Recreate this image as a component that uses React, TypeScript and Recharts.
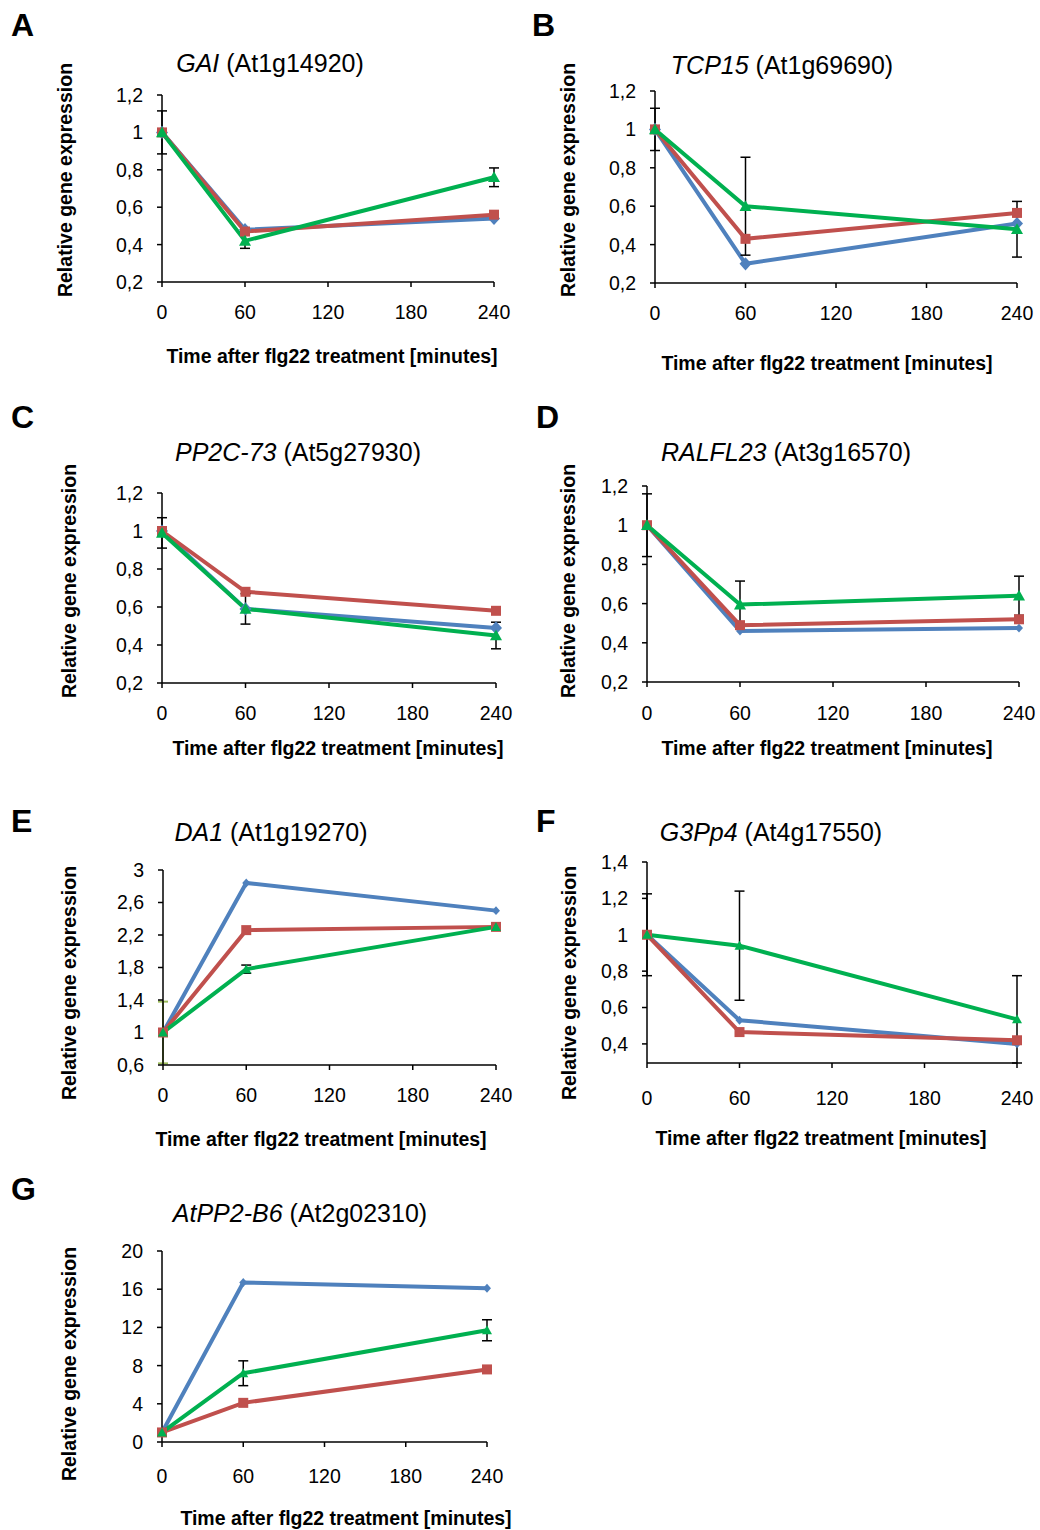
import { ErrorBar, Line, LineChart, XAxis, YAxis } from 'recharts'

const TIMES = [0, 60, 240]
const X_TICKS = [0, 60, 120, 180, 240]

const A_BLUE = [1, 0.48, 0.54]
const A_RED = [1, 0.47, 0.56]
const A_GREEN = [1, 0.42, 0.76]
const A_ERR = [0.115, 0.04, 0.05]

const B_BLUE = [1, 0.3, 0.51]
const B_RED = [1, 0.43, 0.565]
const B_GREEN = [1, 0.6, 0.48]
const B_ERR = [0.11, 0.255, 0.145]

const C_BLUE = [1, 0.59, 0.49]
const C_RED = [1, 0.68, 0.58]
const C_GREEN = [0.99, 0.59, 0.45]
const C_ERR = [0.08, 0.08, 0.07]

const D_BLUE = [1, 0.46, 0.475]
const D_RED = [1, 0.49, 0.52]
const D_GREEN = [1, 0.595, 0.64]
const D_ERR = [0.16, 0.12, 0.1]

const E_BLUE = [1, 2.84, 2.5]
const E_RED = [1, 2.26, 2.3]
const E_GREEN = [1, 1.78, 2.3]
const E_ERR = [0, 0.05, 0.03]
const E_BLUE_ERR = [0.38, 0, 0]

const F_BLUE = [1, 0.53, 0.4]
const F_RED = [1, 0.465, 0.42]
const F_GREEN = [1, 0.94, 0.535]
const F_ERR = [0.225, 0.3, 0.24]

const G_BLUE = [1, 16.7, 16.1]
const G_RED = [1, 4.1, 7.6]
const G_GREEN = [1, 7.2, 11.7]
const G_ERR = [0, 1.3, 1.1]

const TICKS_02 = [0.2, 0.4, 0.6, 0.8, 1, 1.2]
const TICKS_E = [0.6, 1, 1.4, 1.8, 2.2, 2.6, 3]
const TICKS_F = [0.4, 0.6, 0.8, 1, 1.2, 1.4]
const TICKS_G = [0, 4, 8, 12, 16, 20]

const BLUE = '#4F81BD'
const RED = '#C0504D'
const GREEN = '#00B050'
const OLIVE = '#9BBB59'
const FONT = '"Liberation Sans", Arial, sans-serif'

const rows = (b: number[], r: number[], g: number[], e: number[], be?: number[]) =>
  TIMES.map((t, i) => ({ t, blue: b[i], red: r[i], green: g[i], err: e[i], bErr: be ? be[i] : 0 }))

type Panel = {
  letter: string
  gene: string
  locus: string
  data: ReturnType<typeof rows>
  yTicks: number[]
  ox: number
  x0: number
  x1: number
  y0: number
  y1: number
  tickGap: number
  title: [number, number]
  yLabel: [number, number]
  xLabel: [number, number]
  letterPos: [number, number]
  dotSize: { blue: number; red: number; green: number }
}

const PANELS: Panel[] = [
  { letter: 'A', gene: 'GAI', locus: '(At1g14920)', data: rows(A_BLUE, A_RED, A_GREEN, A_ERR), yTicks: TICKS_02,
    ox: 0, x0: 162, x1: 494, y0: 95, y1: 282, tickGap: 18, title: [270, 63], yLabel: [66, 180], xLabel: [332, 357], letterPos: [11, 9],
    dotSize: { blue: 6, red: 5, green: 6 } },
  { letter: 'B', gene: 'TCP15', locus: '(At1g69690)', data: rows(B_BLUE, B_RED, B_GREEN, B_ERR), yTicks: TICKS_02,
    ox: 520, x0: 655, x1: 1017, y0: 91, y1: 283, tickGap: 18, title: [782, 65], yLabel: [569, 180], xLabel: [827, 364], letterPos: [532, 9],
    dotSize: { blue: 6, red: 5, green: 6 } },
  { letter: 'C', gene: 'PP2C-73', locus: '(At5g27930)', data: rows(C_BLUE, C_RED, C_GREEN, C_ERR), yTicks: TICKS_02,
    ox: 0, x0: 162, x1: 496, y0: 493, y1: 683, tickGap: 18, title: [298, 452], yLabel: [70, 581], xLabel: [338, 749], letterPos: [11, 401],
    dotSize: { blue: 6, red: 5, green: 6 } },
  { letter: 'D', gene: 'RALFL23', locus: '(At3g16570)', data: rows(D_BLUE, D_RED, D_GREEN, D_ERR), yTicks: TICKS_02,
    ox: 520, x0: 647, x1: 1019, y0: 486, y1: 682, tickGap: 19, title: [786, 452], yLabel: [569, 581], xLabel: [827, 749], letterPos: [536, 401],
    dotSize: { blue: 4, red: 5, green: 6 } },
  { letter: 'E', gene: 'DA1', locus: '(At1g19270)', data: rows(E_BLUE, E_RED, E_GREEN, E_ERR, E_BLUE_ERR), yTicks: TICKS_E,
    ox: 0, x0: 163, x1: 496, y0: 870, y1: 1065, tickGap: 18, title: [271, 832], yLabel: [70, 983], xLabel: [321, 1140], letterPos: [11, 805],
    dotSize: { blue: 4, red: 5, green: 5 } },
  { letter: 'F', gene: 'G3Pp4', locus: '(At4g17550)', data: rows(F_BLUE, F_RED, F_GREEN, F_ERR), yTicks: TICKS_F,
    ox: 520, x0: 647, x1: 1017, y0: 862, y1: 1063, tickGap: 23, title: [771, 832], yLabel: [570, 983], xLabel: [821, 1139], letterPos: [536, 805],
    dotSize: { blue: 4, red: 5, green: 5 } },
  { letter: 'G', gene: 'AtPP2-B6', locus: '(At2g02310)', data: rows(G_BLUE, G_RED, G_GREEN, G_ERR), yTicks: TICKS_G,
    ox: 0, x0: 162, x1: 487, y0: 1251, y1: 1442, tickGap: 22, title: [300, 1213], yLabel: [70, 1364], xLabel: [346, 1519], letterPos: [11, 1173],
    dotSize: { blue: 4, red: 5, green: 5 } },
]

const comma = (v: number) => String(v).replace('.', ',')

function makeDot(shape: 'diamond' | 'square' | 'triangle', s: number, fill: string) {
  return (props: any) => {
    const { cx, cy, index } = props
    if (cx == null || cy == null) return <g key={`n${index}`} />
    if (shape === 'square') return <rect key={`d${index}`} x={cx - s} y={cy - s} width={s * 2} height={s * 2} fill={fill} />
    if (shape === 'diamond')
      return <path key={`d${index}`} d={`M${cx},${cy - s * 1.1}L${cx + s},${cy}L${cx},${cy + s * 1.1}L${cx - s},${cy}Z`} fill={fill} />
    return <path key={`d${index}`} d={`M${cx},${cy - s}L${cx + s},${cy + s * 0.8}L${cx - s},${cy + s * 0.8}Z`} fill={fill} />
  }
}

function GeneChart({ p }: { p: Panel }) {
  const oy = p.y0 - 15
  const height = p.y1 - oy + 55
  const axisStyle = { fontSize: 19.5, fill: '#000', fontFamily: FONT }
  return (
    <LineChart
      width={520}
      height={height}
      data={p.data}
      margin={{ top: 15, right: p.ox + 520 - p.x1, left: 0, bottom: 0 }}
      style={{ position: 'absolute', left: p.ox, top: oy }}
    >
      <XAxis
        type="number"
        dataKey="t"
        domain={[0, 240]}
        ticks={X_TICKS}
        interval={0}
        height={55}
        tick={axisStyle}
        tickSize={5}
        tickMargin={p.tickGap}
        axisLine={{ stroke: '#000', strokeWidth: 1.5 }}
        tickLine={{ stroke: '#000', strokeWidth: 1.5 }}
      />
      <YAxis
        type="number"
        domain={[p.yTicks[0], p.yTicks[p.yTicks.length - 1]]}
        ticks={p.yTicks}
        interval={0}
        width={p.x0 - p.ox}
        tick={axisStyle}
        tickFormatter={comma}
        tickSize={5}
        tickMargin={14}
        axisLine={{ stroke: '#000', strokeWidth: 1.5 }}
        tickLine={{ stroke: '#000', strokeWidth: 1.5 }}
      />
      <Line type="linear" dataKey="blue" stroke={BLUE} strokeWidth={4} dot={makeDot('diamond', p.dotSize.blue, BLUE)} activeDot={false} isAnimationActive={false}>
        <ErrorBar dataKey="bErr" width={5} stroke={OLIVE} strokeWidth={2} direction="y" />
      </Line>
      <Line type="linear" dataKey="red" stroke={RED} strokeWidth={4} dot={makeDot('square', p.dotSize.red, RED)} activeDot={false} isAnimationActive={false} />
      <Line type="linear" dataKey="green" stroke={GREEN} strokeWidth={4} dot={makeDot('triangle', p.dotSize.green, GREEN)} activeDot={false} isAnimationActive={false}>
        <ErrorBar dataKey="err" width={5} stroke="#000" strokeWidth={1.5} direction="y" />
      </Line>
    </LineChart>
  )
}

const centered = (x: number, y: number, extra: React.CSSProperties = {}): React.CSSProperties => ({
  position: 'absolute',
  left: x,
  top: y,
  transform: 'translate(-50%, -50%)',
  whiteSpace: 'nowrap',
  fontFamily: FONT,
  color: '#000',
  lineHeight: 1,
  ...extra,
})

export default function App() {
  return (
    <div style={{ position: 'absolute', left: 0, top: 0, width: 1040, height: 1530, background: '#fff', overflow: 'hidden' }}>
      {PANELS.map((p) => (
        <div key={p.letter}>
          <GeneChart p={p} />
          <div style={{ position: 'absolute', left: p.letterPos[0], top: p.letterPos[1], fontFamily: FONT, fontWeight: 700, fontSize: 32, lineHeight: 1 }}>
            {p.letter}
          </div>
          <div style={centered(p.title[0], p.title[1], { fontSize: 25 })}>
            <i>{p.gene}</i> {p.locus}
          </div>
          <div style={centered(p.yLabel[0], p.yLabel[1], { fontSize: 19.5, fontWeight: 700, transform: 'translate(-50%, -50%) rotate(-90deg)' })}>
            Relative gene expression
          </div>
          <div style={centered(p.xLabel[0], p.xLabel[1], { fontSize: 19.5, fontWeight: 700 })}>
            Time after flg22 treatment [minutes]
          </div>
        </div>
      ))}
    </div>
  )
}
